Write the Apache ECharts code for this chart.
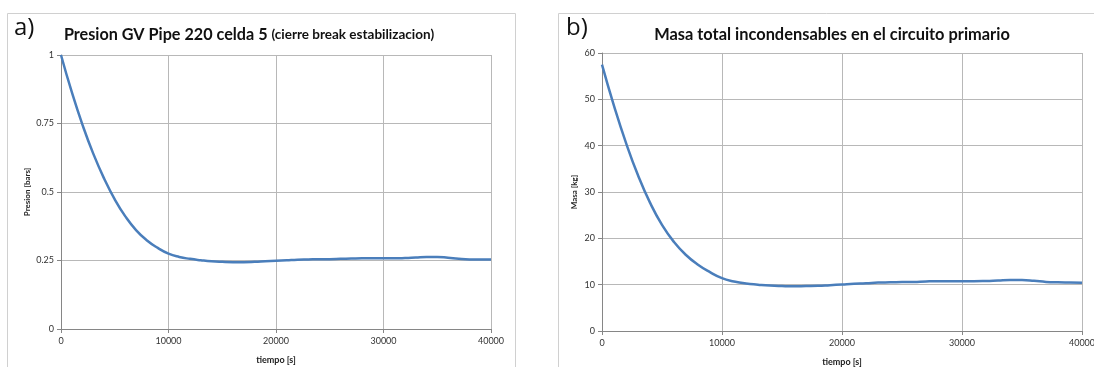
<!DOCTYPE html>
<html>
<head>
<meta charset="utf-8">
<script src="https://cdn.jsdelivr.net/npm/echarts@6/dist/echarts.min.js"></script>
<style>
  html, body { margin: 0; padding: 0; background: #fff; }
  #container { width: 1094px; height: 367px; }
</style>
</head>
<body>
<div id="container"></div>
<script>
"use strict";

// tiempo [s]
let tiempo = [0, 1000, 2000, 3000, 4000, 5000, 6000, 7000, 8000, 9000,
  10000, 11000, 12000, 13000, 14000, 15000, 16000, 17000, 18000, 19000,
  20000, 21000, 22000, 23000, 24000, 25000, 26000, 27000, 28000, 29000,
  30000, 31000, 32000, 33000, 34000, 35000, 36000, 37000, 38000, 39000, 40000];

// a) Presion [bars]
let presion = [1.0, 0.865, 0.745, 0.64, 0.55, 0.473, 0.41, 0.36, 0.323, 0.296,
  0.275, 0.263, 0.256, 0.251, 0.247, 0.245, 0.244, 0.244, 0.245, 0.247,
  0.249, 0.251, 0.253, 0.254, 0.255, 0.255, 0.256, 0.257, 0.258, 0.258,
  0.258, 0.258, 0.259, 0.261, 0.263, 0.263, 0.26, 0.256, 0.254, 0.254, 0.254];

// b) Masa [kg]
let masa = [57.5, 48.6, 40.6, 33.6, 27.7, 22.9, 19.2, 16.4, 14.3, 12.7,
  11.4, 10.7, 10.25, 10.0, 9.8, 9.7, 9.65, 9.7, 9.75, 9.9,
  10.05, 10.2, 10.3, 10.45, 10.5, 10.55, 10.6, 10.7, 10.75, 10.75,
  10.75, 10.75, 10.8, 10.9, 11.0, 11.0, 10.85, 10.6, 10.5, 10.45, 10.4];

let myChart = echarts.init(document.getElementById('container'));

let font = 'Lato, "Open Sans", sans-serif';
let lineColor = '#4a7ebb';

function xAxisOf(idx) {
  return {
    gridIndex: idx,
    type: 'value',
    min: 0,
    max: 40000,
    interval: 10000,
    name: 'tiempo [s]',
    nameLocation: 'middle',
    nameGap: 27,
    nameTextStyle: { fontFamily: font, fontSize: 9, fontWeight: 'bold', color: '#222' },
    axisLine: { lineStyle: { color: '#868686' } },
    axisTick: { show: true, length: 4, lineStyle: { color: '#868686' } },
    axisLabel: {
      fontFamily: font, fontSize: 9, color: '#333', margin: 8,
      formatter: function (value) {
        return String(value);
      },
    },
    splitLine: { show: true, lineStyle: { color: '#b8b8b8' } },
  };
}

function yAxisOf(idx, name, max, interval, gap) {
  return {
    gridIndex: idx,
    type: 'value',
    min: 0,
    max: max,
    interval: interval,
    name: name,
    nameLocation: 'middle',
    nameGap: gap,
    nameTextStyle: { fontFamily: font, fontSize: 8, fontWeight: 'bold', color: '#222' },
    axisLine: { show: true, lineStyle: { color: '#868686' } },
    axisTick: { show: true, length: 4, lineStyle: { color: '#868686' } },
    axisLabel: { fontFamily: font, fontSize: 9, color: '#333', margin: 7 },
    splitLine: { show: true, lineStyle: { color: '#b8b8b8' } },
  };
}

let option = {
  animation: false,
  backgroundColor: '#fff',
  graphic: [
    {
      type: 'rect',
      shape: { x: 7.5, y: 13.5, width: 508, height: 360 },
      style: { fill: 'none', stroke: '#d0d0d0', lineWidth: 1 },
    },
    {
      type: 'rect',
      shape: { x: 558.5, y: 13.5, width: 560, height: 360 },
      style: { fill: 'none', stroke: '#d0d0d0', lineWidth: 1 },
    },
    {
      type: 'text',
      x: 14, y: 16,
      style: { text: 'a)', fontFamily: '"Open Sans", sans-serif', fontSize: 24, fill: '#111' },
    },
    {
      type: 'text',
      x: 566, y: 16,
      style: { text: 'b)', fontFamily: '"Open Sans", sans-serif', fontSize: 24, fill: '#111' },
    },
  ],
  title: [
    {
      text: '{a|Presion GV Pipe 220 celda 5 }{b|(cierre break estabilizacion)}',
      left: 244,
      top: 22,
      textAlign: 'center',
      textStyle: {
        rich: {
          a: { fontFamily: font, fontSize: 16.2, fontWeight: 'bold', color: '#111' },
          b: { fontFamily: font, fontSize: 13.5, fontWeight: 'bold', color: '#111' },
        },
      },
    },
    {
      text: 'Masa total incondensables en el circuito primario',
      left: 827,
      top: 22,
      textAlign: 'center',
      textStyle: { fontFamily: font, fontSize: 16.4, fontWeight: 'bold', color: '#111' },
    },
  ],
  grid: [
    { left: 61, top: 55, width: 430, height: 274, outerBoundsMode: 'none' },
    { left: 602, top: 53, width: 480, height: 278, outerBoundsMode: 'none' },
  ],
  xAxis: [xAxisOf(0), xAxisOf(1)],
  yAxis: [
    yAxisOf(0, 'Presion [bars]', 1, 0.25, 30),
    yAxisOf(1, 'Masa [kg]', 60, 10, 24),
  ],
  series: [
    {
      name: 'Presion',
      type: 'line',
      xAxisIndex: 0,
      yAxisIndex: 0,
      smooth: true,
      showSymbol: false,
      lineStyle: { color: lineColor, width: 2.5 },
      data: tiempo.map((t, i) => [t, presion[i]]),
    },
    {
      name: 'Masa',
      type: 'line',
      xAxisIndex: 1,
      yAxisIndex: 1,
      smooth: true,
      showSymbol: false,
      lineStyle: { color: lineColor, width: 2.5 },
      data: tiempo.map((t, i) => [t, masa[i]]),
    },
  ],
};

myChart.setOption(option);
</script>
</body>
</html>
